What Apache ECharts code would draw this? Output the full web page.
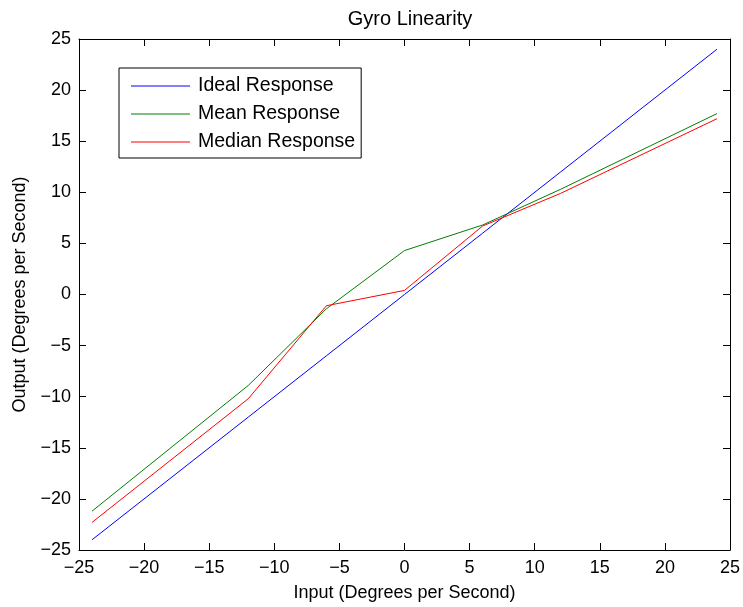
<!DOCTYPE html>
<html>
<head>
<meta charset="utf-8">
<script src="https://cdn.jsdelivr.net/npm/echarts@6/dist/echarts.min.js"></script>
<style>
  html, body { margin: 0; padding: 0; background: #fff; }
  #chart { width: 743px; height: 607px; }
</style>
</head>
<body>
<div id="chart"></div>
<script>
// Test input rates (deg/s) and measured gyro outputs
const inputRates = [-24, -12, -6, 0, 6, 12, 24];
const idealResponse = [-24, -12, -6, 0, 6, 12, 24];
const meanResponse = [-21.2, -8.9, -1.4, 4.3, 6.8, 10.3, 17.7];
const medianResponse = [-22.3, -10.2, -1.1, 0.4, 6.7, 9.9, 17.2];
const tickValues = [-25, -20, -15, -10, -5, 0, 5, 10, 15, 20, 25];

const FONT = 'Liberation Sans, Arial, Helvetica, sans-serif';
const pairs = (ys) => inputRates.map((x, i) => [x, ys[i]]);
const fmt = (v) => String(v).replace('-', '\u2212');

const axisBase = {
  type: 'value',
  min: tickValues[0],
  max: tickValues[tickValues.length - 1],
  interval: 5,
  splitLine: { show: false },
  axisLine: { show: true, onZero: false, lineStyle: { color: '#000', width: 1 } },
  axisTick: { show: true, inside: true, length: 7, lineStyle: { color: '#000' } }
};

const chart = echarts.init(document.getElementById('chart'), null, { renderer: 'canvas' });
chart.setOption({
  backgroundColor: '#fff',
  animation: false,
  title: {
    text: 'Gyro Linearity',
    left: 405, top: 4, textAlign: 'center',
    textStyle: { fontFamily: FONT, fontSize: 20, fontWeight: 'normal', color: '#000' }
  },
  grid: { left: 79, right: 13, top: 39, bottom: 55 },
  legend: {
    left: 119, top: 68,
    orient: 'vertical',
    backgroundColor: '#fff',
    borderColor: '#000', borderWidth: 1,
    padding: [8, 6, 6, 12],
    icon: 'rect',
    itemWidth: 59, itemHeight: 1, itemGap: 8,
    textStyle: { fontFamily: FONT, fontSize: 19.5, color: '#000', lineHeight: 20, padding: [0, 0, 0, 3] },
    data: ['Ideal Response', 'Mean Response', 'Median Response']
  },
  xAxis: [
    Object.assign({}, axisBase, {
      position: 'bottom',
      name: 'Input (Degrees per Second)',
      nameLocation: 'middle', nameGap: 34,
      nameTextStyle: { fontFamily: FONT, fontSize: 18, color: '#000' },
      axisLabel: { fontFamily: FONT, fontSize: 18, color: '#000', margin: 9, formatter: fmt }
    }),
    Object.assign({}, axisBase, { position: 'top', axisLabel: { show: false } })
  ],
  yAxis: [
    Object.assign({}, axisBase, {
      position: 'left',
      name: 'Output (Degrees per Second)',
      nameLocation: 'middle', nameGap: 50,
      nameTextStyle: { fontFamily: FONT, fontSize: 18, color: '#000' },
      axisLabel: { fontFamily: FONT, fontSize: 18, color: '#000', margin: 8, formatter: fmt }
    }),
    Object.assign({}, axisBase, { position: 'right', axisLabel: { show: false } })
  ],
  series: [
    { name: 'Ideal Response', type: 'line', data: pairs(idealResponse), symbol: 'none',
      color: '#0000ff', lineStyle: { width: 1, color: '#0000ff' } },
    { name: 'Mean Response', type: 'line', data: pairs(meanResponse), symbol: 'none',
      color: '#008000', lineStyle: { width: 1, color: '#008000' } },
    { name: 'Median Response', type: 'line', data: pairs(medianResponse), symbol: 'none',
      color: '#ff0000', lineStyle: { width: 1, color: '#ff0000' } }
  ]
});
</script>
</body>
</html>
